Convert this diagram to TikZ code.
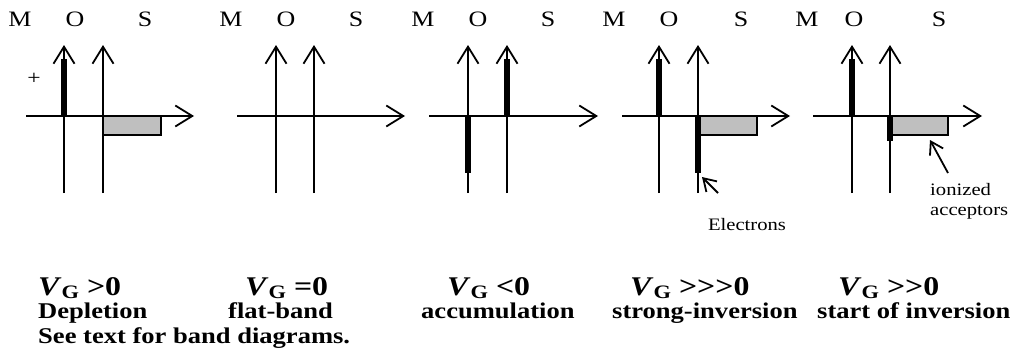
\documentclass[tikz,border=0pt]{standalone}
\usepackage{fontspec}
\setmainfont{Liberation Serif}[FakeStretch=1.18,Ligatures=TeXOff]
\usetikzlibrary{arrows.meta}
\newcommand{\vgsym}{\textit{V}\raisebox{-3pt}{\fontsize{19}{19}\selectfont G}}
\begin{document}
\begin{tikzpicture}[x=1pt,y=-1pt,
  axis/.style={line width=1.8pt,-{Straight Barb[length=17pt,width=21pt,line width=1.8pt]}},
  pointer/.style={line width=1.8pt,-{Straight Barb[length=12pt,width=15pt,line width=1.8pt]}},
  charge/.style={line width=5.5pt,line cap=butt},
  accbox/.style={draw,line width=1.8pt,fill=black!25},
  lbl/.style={font=\fontsize{22}{26}\selectfont,anchor=base,inner sep=0pt},
  cond/.style={font=\fontsize{27}{30}\selectfont\bfseries,anchor=base west,inner sep=0pt},
  desc/.style={font=\fontsize{22.5}{26}\selectfont\bfseries,anchor=base west,inner sep=0pt},
  note/.style={font=\fontsize{17.5}{20}\selectfont,inner sep=0pt}]
\useasboundingbox (0,0) rectangle (1013,364);
% top labels
\node[lbl] (m1) at (20,27) {M};  \node[lbl] (o1) at (75,27) {O};  \node[lbl] (s1) at (145,27) {S};
\node[lbl] (m2) at (231,27) {M}; \node[lbl] (o2) at (286,27) {O}; \node[lbl] (s2) at (356,27) {S};
\node[lbl] (m3) at (423,27) {M}; \node[lbl] (o3) at (478,27) {O}; \node[lbl] (s3) at (548,27) {S};
\node[lbl] (m4) at (614,27) {M}; \node[lbl] (o4) at (669,27) {O}; \node[lbl] (s4) at (741,27) {S};
\node[lbl] (m5) at (807,27) {M}; \node[lbl] (o5) at (854,27) {O}; \node[lbl] (s5) at (939,27) {S};
% depletion boxes
\draw[accbox] (103,116) rectangle (161,135);
\draw[accbox] (698,116) rectangle (757,135);
\draw[accbox] (890,116) rectangle (948,135);
% axes
\foreach \i/\L/\R/\a/\b in {1/64/103/26/194, 2/276/314/237/405, 3/468/507/429/598, 4/659/698/622/790, 5/852/890/813/982}{
  \coordinate (l\i t) at (\L,45); \coordinate (l\i b) at (\L,193);
  \coordinate (r\i t) at (\R,45); \coordinate (r\i b) at (\R,193);
  \coordinate (a\i s) at (\a,116); \coordinate (a\i e) at (\b,116);
  \draw[axis] (l\i b) -- (l\i t);
  \draw[axis] (r\i b) -- (r\i t);
  \draw[axis] (a\i s) -- (a\i e);
}
% charge sheets
\draw[charge] (64,59) -- (64,116);
\draw[charge] (468,116) -- (468,173);
\draw[charge] (507,59) -- (507,116);
\draw[charge] (659,59) -- (659,116);
\draw[charge] (698,116) -- (698,173);
\draw[charge] (852,59) -- (852,116);
\draw[charge] (890,116) -- (890,141);
% plus sign
\node[note,font=\fontsize{20}{22}\selectfont] (plus) at (34,79) {+};
% annotations
\node[note,anchor=base] (el) at (747,230) {Electrons};
\coordinate (elt) at (718,193); \coordinate (elh) at (702,177);
\draw[pointer] (elt) -- (elh);
\node[note,anchor=base west] (ion1) at (930,195) {ionized};
\node[note,anchor=base west] (ion2) at (930,215) {acceptors};
\coordinate (iont) at (948,173); \coordinate (ionh) at (930,140);
\draw[pointer] (iont) -- (ionh);
% conditions
\node[cond] (c1) at (38,295) {\vgsym{} >0};
\node[cond] (c2) at (245,295) {\vgsym{} =0};
\node[cond] (c3) at (447,295) {\vgsym{} <0};
\node[cond] (c4) at (630,295) {\vgsym{} >>>0};
\node[cond] (c5) at (838,295) {\vgsym{} >>0};
\node[desc] (d1) at (38,318) {Depletion};
\node[desc] (d2) at (228,318) {flat-band};
\node[desc] (d3) at (421,318) {accumulation};
\node[desc] (d4) at (612,318) {strong-inversion};
\node[desc] (d5) at (817,318) {start of inversion};
\node[desc] (see) at (38,343) {See text for band diagrams.};
\end{tikzpicture}
\end{document}
